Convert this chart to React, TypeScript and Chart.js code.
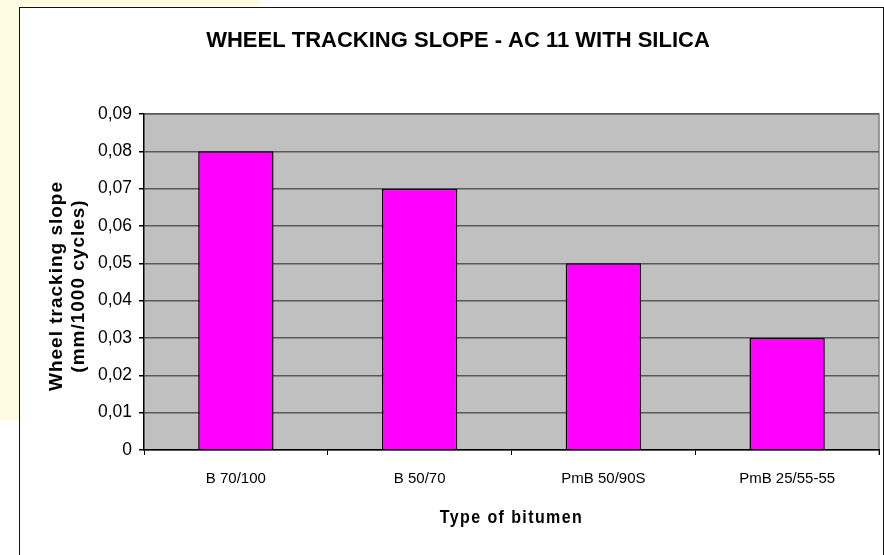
import React, { useEffect, useRef } from "react";
import { Chart, registerables } from "chart.js";

Chart.register(...registerables);

const categories = ["B 70/100", "B 50/70", "PmB 50/90S", "PmB 25/55-55"];
const slopeValues = [0.08, 0.07, 0.05, 0.03];
const yTicks = [0, 0.01, 0.02, 0.03, 0.04, 0.05, 0.06, 0.07, 0.08, 0.09];
const titleText = "WHEEL TRACKING SLOPE - AC 11 WITH SILICA";
const yTitleLines = ["Wheel tracking slope", "(mm/1000 cycles)"];
const xTitleText = "Type of bitumen";

const FONT = "'Liberation Sans', Arial, sans-serif";

const decorPlugin = {
  id: "decor",
  beforeDraw(chart: any) {
    const { ctx, chartArea, width, height } = chart;
    ctx.save();
    ctx.fillStyle = "#ffffff";
    ctx.fillRect(0, 0, width, height);
    // faint yellow backdrop at the left edge
    ctx.fillStyle = "#fffbe3";
    ctx.fillRect(0, 0, 19, 420);
    ctx.fillRect(0, 0, 260, 7);
    // outer frame
    ctx.strokeStyle = "#111";
    ctx.lineWidth = 1;
    ctx.strokeRect(19.5, 7.5, 864, 560);
    // plot background
    ctx.fillStyle = "#c0c0c0";
    ctx.fillRect(chartArea.left, chartArea.top, chartArea.right - chartArea.left, chartArea.bottom - chartArea.top);
    ctx.strokeStyle = "#808080";
    ctx.lineWidth = 1.5;
    ctx.beginPath();
    ctx.moveTo(chartArea.left, chartArea.top);
    ctx.lineTo(chartArea.right, chartArea.top);
    ctx.lineTo(chartArea.right, chartArea.bottom + 5);
    ctx.stroke();
    ctx.restore();
  },
  afterDraw(chart: any) {
    const { ctx, chartArea } = chart;
    ctx.save();
    ctx.fillStyle = "#000";
    // y axis title (two lines, rotated)
    ctx.font = `bold 19px ${FONT}`;
    (ctx as any).letterSpacing = "1px";
    ctx.textAlign = "center";
    ctx.textBaseline = "alphabetic";
    const cy = 286;
    const baselines = [62, 84];
    yTitleLines.forEach((line, i) => {
      ctx.save();
      ctx.translate(baselines[i], cy);
      ctx.rotate(-Math.PI / 2);
      ctx.fillText(line, 0, 0);
      ctx.restore();
    });
    // x axis title
    ctx.font = `bold 16px ${FONT}`;
    (ctx as any).letterSpacing = "1.4px";
    ctx.save();
    ctx.translate((chartArea.left + chartArea.right) / 2, 523);
    ctx.scale(1, 1.15);
    ctx.fillText(xTitleText, 0, 0);
    ctx.restore();
    ctx.restore();
  },
};

export default function App() {
  const ref = useRef<HTMLCanvasElement | null>(null);
  useEffect(() => {
    if (!ref.current) return;
    const chart = new Chart(ref.current, {
      type: "bar",
      data: {
        labels: categories,
        datasets: [
          {
            label: "Wheel tracking slope",
            data: slopeValues,
            backgroundColor: "#ff00ff",
            borderColor: "#000000",
            borderWidth: 1.5,
            barPercentage: 0.41,
            categoryPercentage: 1,
          },
        ],
      },
      options: {
        responsive: false,
        animation: false,
        layout: { padding: { left: 37, right: 5, top: 0, bottom: 0 } },
        plugins: {
          legend: { display: false },
          tooltip: { enabled: false },
          title: {
            display: true,
            text: titleText,
            color: "#000",
            font: { family: FONT, size: 22, weight: "bold", lineHeight: 1.2 },
            padding: { top: 28, bottom: 59.6 },
          },
        },
        scales: {
          x: {
            afterFit(scale: any) {
              scale.height = 105;
            },
            grid: {
              display: true,
              drawOnChartArea: false,
              drawTicks: true,
              tickLength: 5,
              offset: true,
              color: "#000",
            },
            border: { display: true, color: "#000", width: 1.5 },
            ticks: {
              color: "#000",
              font: { family: FONT, size: 15 },
              padding: 15,
              maxRotation: 0,
            },
          },
          y: {
            min: 0,
            max: 0.09,
            afterFit(scale: any) {
              scale.width = 107;
            },
            afterBuildTicks(scale: any) {
              scale.ticks = yTicks.map((v) => ({ value: v }));
            },
            grid: {
              color: "#595959",
              lineWidth: 1.5,
              tickColor: "#000",
              tickLength: 5,
            },
            border: { display: true, color: "#000", width: 1.5 },
            ticks: {
              color: "#000",
              font: { family: FONT, size: 17.5 },
              padding: 7,
              callback: (v: any) => (Number(v) === 0 ? "0" : Number(v).toFixed(2).replace(".", ",")),
            },
          },
        },
      },
      plugins: [decorPlugin],
    });
    return () => chart.destroy();
  }, []);
  return (
    <div style={{ position: "absolute", left: 0, top: 0, width: 884, height: 555 }}>
      <canvas ref={ref} width={884} height={555} />
    </div>
  );
}
